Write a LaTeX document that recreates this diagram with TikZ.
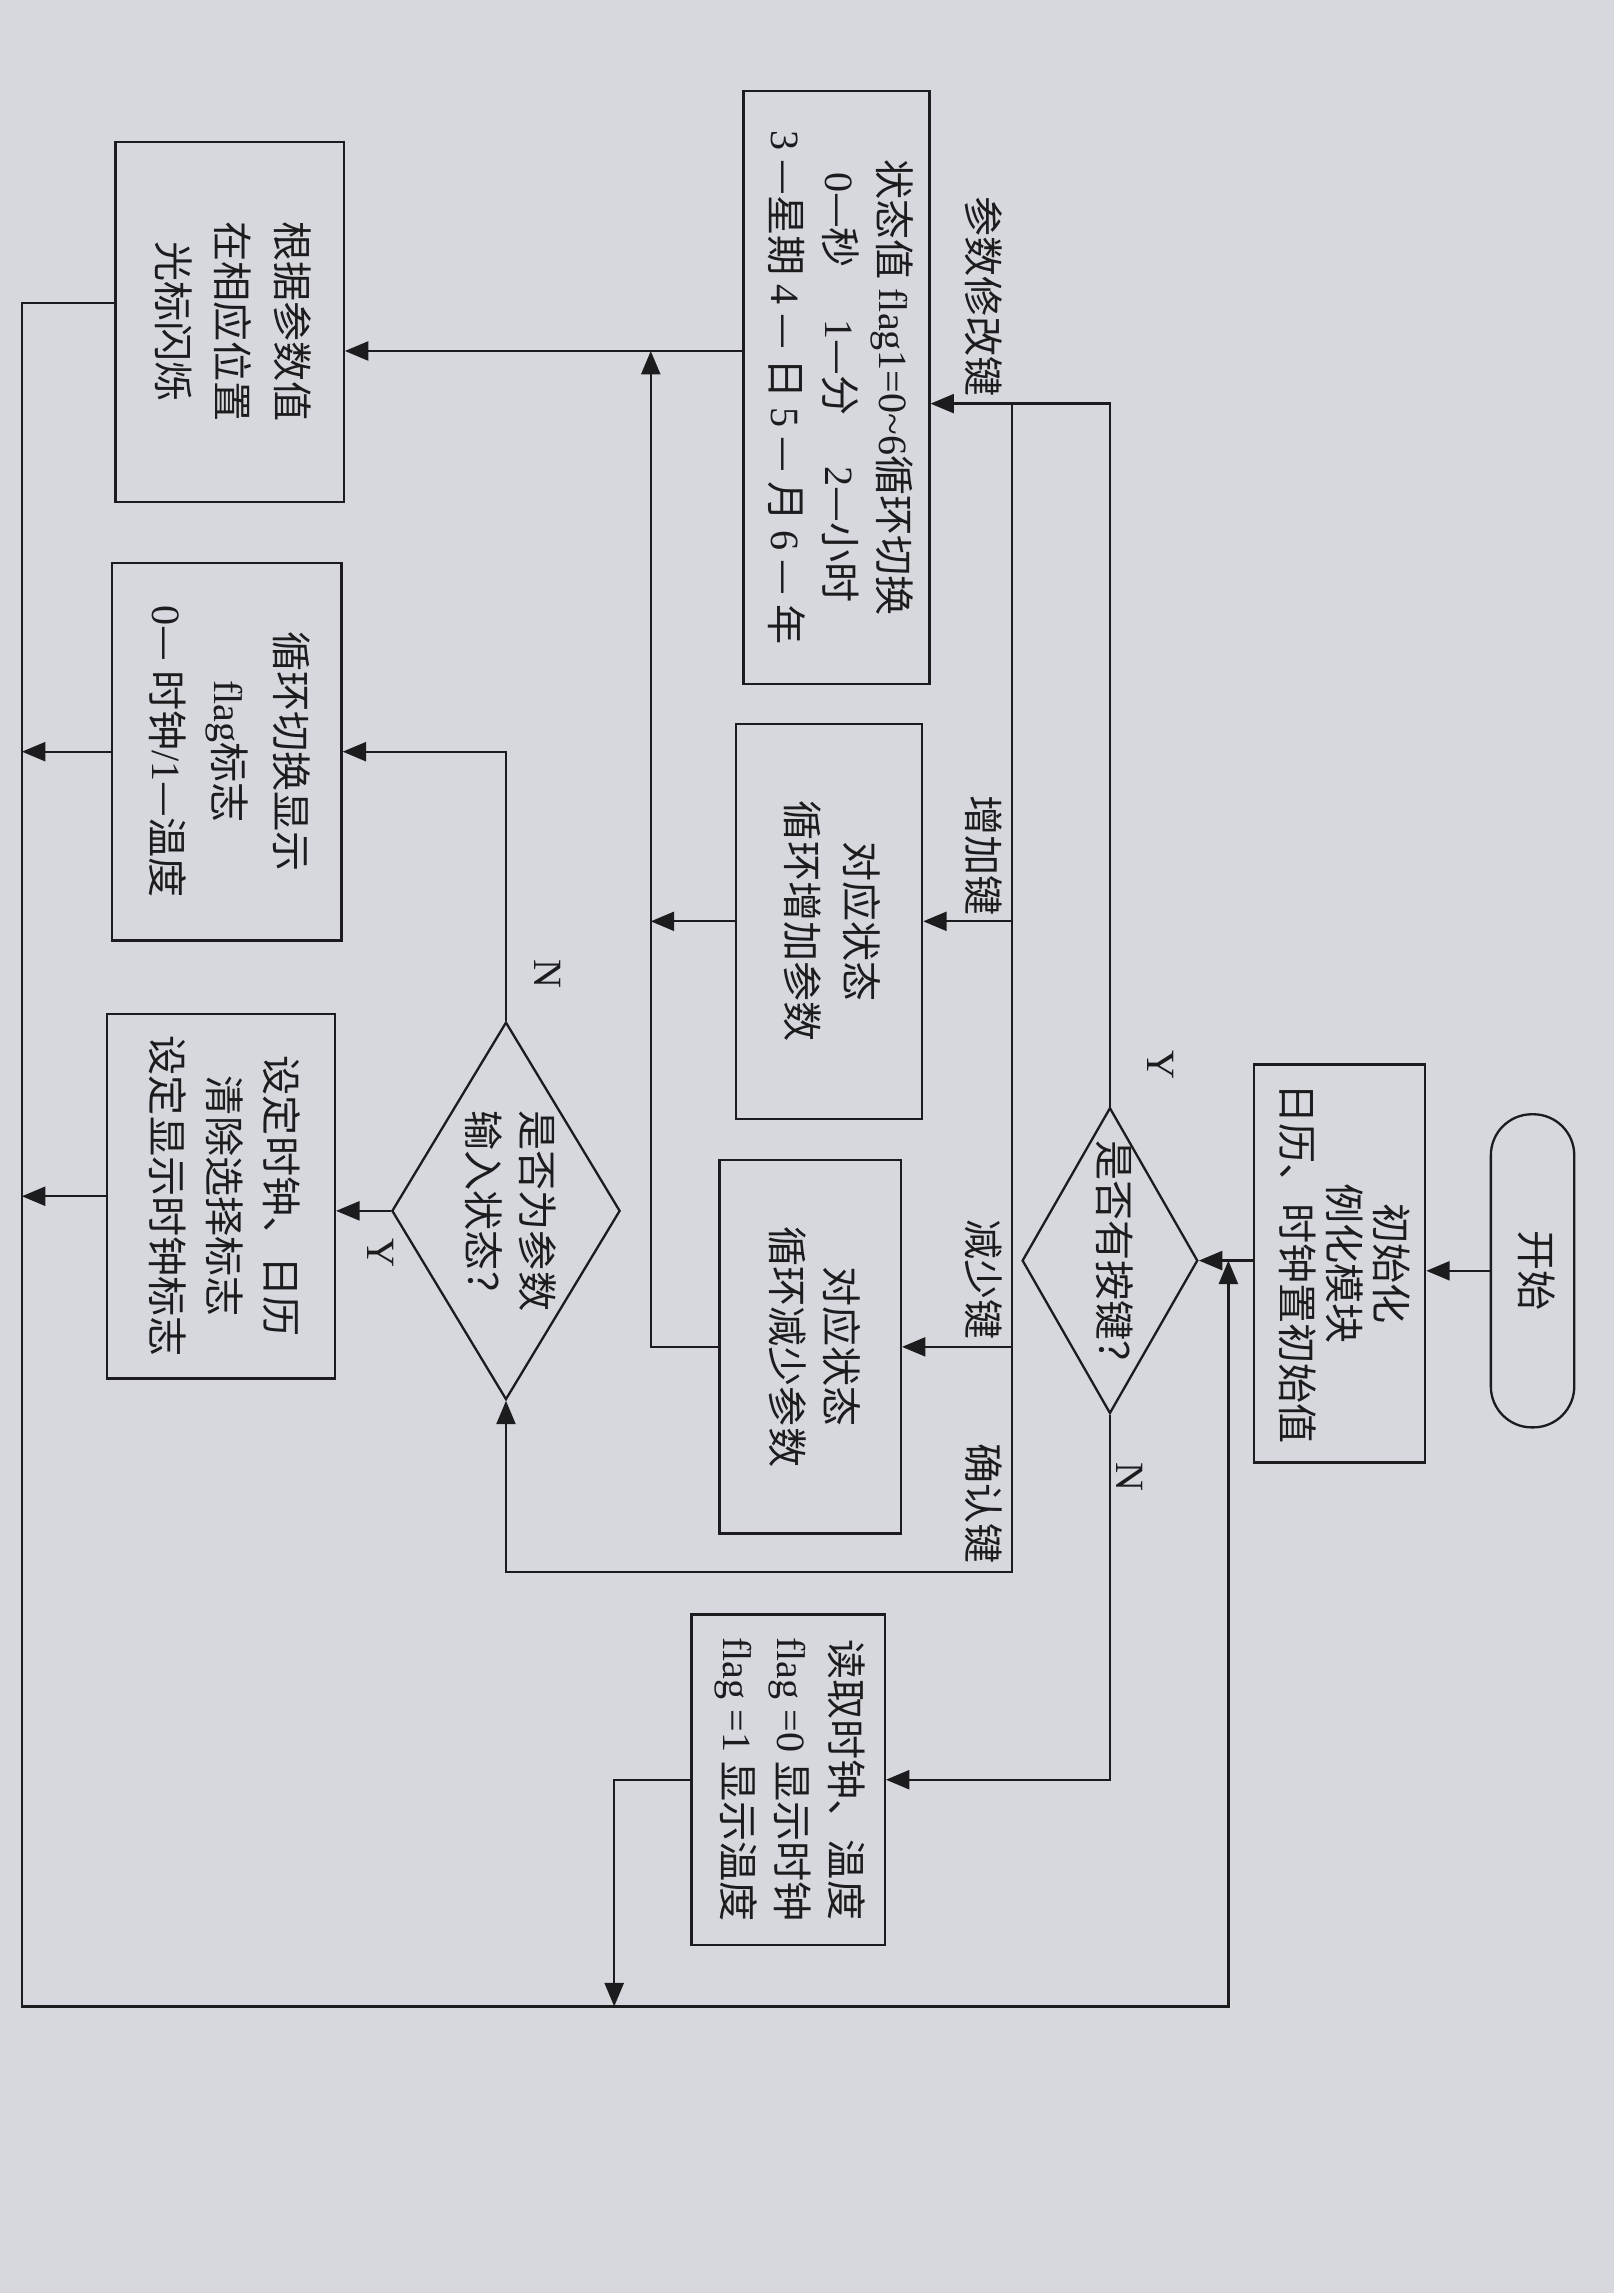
\documentclass[tikz,border=0pt]{standalone}
\usepackage{fontspec}
\setmainfont{Noto Sans CJK SC}
\newfontfamily\latfont{Liberation Serif}
\usepackage{tikz}
\usetikzlibrary{arrows.meta}
\usetikzlibrary{shapes.geometric}
\definecolor{paper}{RGB}{214, 216, 221}
\definecolor{ink}{RGB}{28, 28, 30}
\newcommand{\lat}[1]{{\latfont #1}}
\newcommand{\vtext}[2][1]{\rotatebox{-90}{\renewcommand{\arraystretch}{#1}\begin{tabular}{@{}c@{}}#2\end{tabular}}}
\tikzset{
  proc/.style={draw, rectangle, line width=0.45pt, inner sep=0pt},
  terminal/.style={draw, rectangle, rounded corners=0.28cm, line width=0.45pt, inner sep=0pt},
  decision/.style={draw, diamond, line width=0.45pt, inner sep=0pt},
  lbl/.style={inner sep=0pt},
  flow/.style={draw, line width=0.45pt, -{Triangle[length=1.6mm, width=1.3mm]}},
  link/.style={draw, line width=0.45pt}
}
\begin{document}
\begin{tikzpicture}[x=0.01cm, y=-0.01cm, color=ink, font=\fontsize{7.8}{10.5}\selectfont]
            % Frame to ensure alignment:
            \useasboundingbox                                         (0, 0) rectangle (1104, 1568);
            \fill[paper]                                              (0, 0) rectangle (1104, 1568);
            % Main column:
            \node[terminal, minimum width=0.57cm, minimum height=2.14cm] (start)  at (1048, 869) {\vtext{开始}};
            \node[proc,     minimum width=1.17cm, minimum height=2.72cm] (init)   at ( 916, 864) {\vtext[0.82]{初始化\\例化模块\\日历、时钟置初始值}};
            \node[decision, minimum width=1.20cm, minimum height=2.09cm,
                  label=center:{\vtext{是否有按键？}}]                 (key)    at ( 759, 862) {};
            % Key handling:
            \node[proc,     minimum width=1.27cm, minimum height=4.05cm] (state)  at ( 572, 265) {\vtext{状态值\ \lat{flag1=0\textasciitilde6}循环切换\\
                  \lat{0}—秒\hspace{10pt}\lat{1}—分\hspace{10pt}\lat{2}—小时\\
                  \lat{3} —星期 \lat{4} — 日 \lat{5} — 月 \lat{6} — 年}};
            \node[proc,     minimum width=1.27cm, minimum height=2.70cm] (inc)    at ( 567, 630) {\vtext[1.1]{对应状态\\循环增加参数}};
            \node[proc,     minimum width=1.24cm, minimum height=2.55cm] (dec)    at ( 554, 921) {\vtext{对应状态\\循环减少参数}};
            \node[proc,     minimum width=1.32cm, minimum height=2.26cm] (read)   at ( 539,1217) {\vtext{读取时钟、温度\\\lat{flag =0} 显示时钟\\\lat{flag =1} 显示温度}};
            \node[decision, minimum width=1.56cm, minimum height=2.58cm,
                  label=center:{\vtext{是否为参数\\输入状态？}}]       (param)  at ( 346, 828) {};
            % Left column:
            \node[proc,     minimum width=1.56cm, minimum height=2.46cm] (cursor) at ( 157, 220) {\vtext[1.1]{根据参数值\\在相应位置\\光标闪烁}};
            \node[proc,     minimum width=1.57cm, minimum height=2.58cm] (toggle) at ( 155, 514) {\vtext[1.15]{循环切换显示\\\lat{flag}标志\\\lat{0}— 时钟\lat{/1}—温度}};
            \node[proc,     minimum width=1.56cm, minimum height=2.49cm] (setclk) at ( 151, 818) {\vtext[1.05]{设定时钟、日历\\清除选择标志\\设定显示时钟标志}};
            % Corners of the wiring:
            \coordinate (busT) at (692,  276);
            \coordinate (busB) at (692, 1075);
            \coordinate (mid)  at (445,  240);
            \coordinate (L)    at ( 15,  207);
            \coordinate (BL)   at ( 15, 1372);
            \coordinate (BR)   at (840, 1372);
            \coordinate (rd)   at (420, 1372);
            % Branch labels:
            \node[lbl, anchor=south] (lmod) at (670,  272) {\vtext{参数修改键}};
            \node[lbl, anchor=south] (linc) at (670,  627) {\vtext{增加键}};
            \node[lbl, anchor=south] (ldec) at (670,  917) {\vtext{减少键}};
            \node[lbl, anchor=south] (lok)  at (670, 1070) {\vtext{确认键}};
            \node[lbl] (ykey)   at (792,  728) {\vtext{\lat{Y}}};
            \node[lbl] (nkey)   at (771, 1010) {\vtext{\lat{N}}};
            \node[lbl] (nparam) at (373,  666) {\vtext{\lat{N}}};
            \node[lbl] (yparam) at (259,  857) {\vtext{\lat{Y}}};
            % Connectors:
            \draw[flow] (start.west) -- (init.east |- start.west);
            \draw[flow] (init.west |- key.east) -- (key.east);
            \draw[flow] (key.north) -- (key.north |- busT) -- (state.east |- busT);
            \draw[flow] (busT) -- (busB) -- (param.south |- busB) -- (param.south);
            \draw[flow] (busT |- inc.east) -- (inc.east);
            \draw[flow] (busT |- dec.east) -- (dec.east);
            \draw[flow] (state.west |- mid) -- (cursor.east |- mid);
            \draw[flow] (inc.west) -- (inc.west -| mid);
            \draw[flow] (dec.west) -- (dec.west -| mid) -- (mid);
            \draw[flow] (param.north) -- (param.north |- toggle.east) -- (toggle.east);
            \draw[flow] (param.west) -- (param.west -| setclk.east);
            \draw[flow] (toggle.west) -- (toggle.west -| L);
            \draw[flow] (setclk.west) -- (setclk.west -| L);
            \draw[flow] (key.south) -- (key.south |- read.east) -- (read.east);
            \draw[flow] (read.west) -- (read.west -| rd) -- (rd);
            \draw[flow] (cursor.west |- L) -- (L) -- (BL) -- (BR) -- (BR |- key.east);
        \end{tikzpicture}
\end{document}
